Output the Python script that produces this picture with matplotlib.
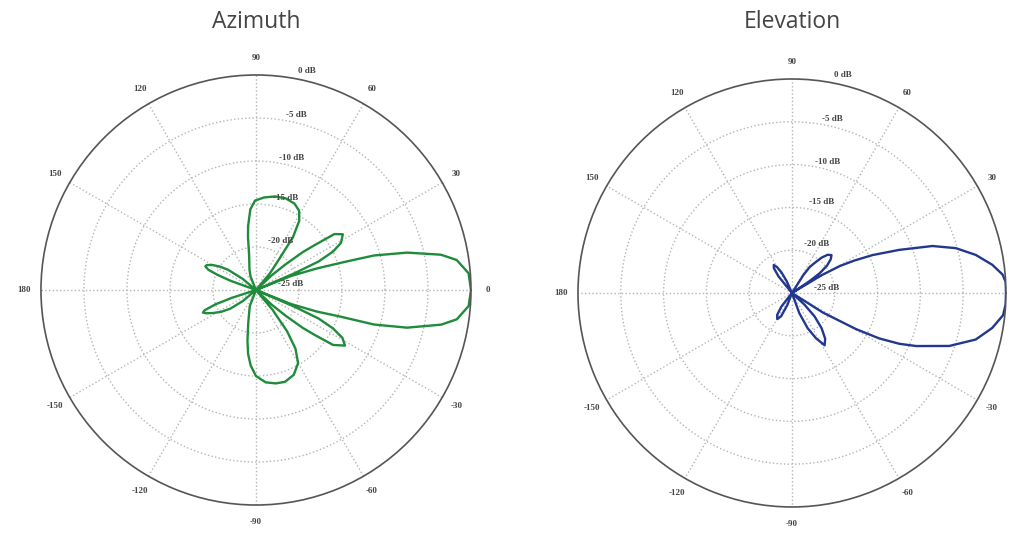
import matplotlib.pyplot as plt
import numpy as np

# Azimuth pattern (angle in degrees, gain in dB; -25 dB = centre of plot)
az_theta = [
    -180, -170, -164, -162, -160.5, -158.5, -157, -155, -152, -148, -144,
    -140, -136, -125, -116, -111, -107, -103, -99.5, -97, -94, -90, -84,
    -78, -72.5, -66, -60, -56, -53, -50, -47, -45, -43, -41, -39, -37.5,
    -35.5, -32, -29, -26.5, -24.5, -23.5, -23, -21.8, -19.5, -17.5, -16.3,
    -14, -10.6, -8.3, -4.3, 0, 4.5, 8.5, 10.8, 13.9, 16.3, 17.5, 19.5,
    21.8, 23, 23.5, 24.5, 26.5, 29, 32.7, 35.5, 37.5, 39, 41, 43, 45, 47,
    50, 52.8, 55, 58, 61.5, 66, 72, 78.6, 85, 90.6, 94, 97, 98.6, 101, 104,
    107.6, 112, 116, 126, 136, 140, 144, 147, 150, 153, 155, 157, 158.5,
    160, 162, 170, 180,
]
az_db = [
    -25, -25, -25, -22.0, -20.0, -18.6, -18.3, -18.6, -19.3, -20.2, -21.3,
    -23.0, -25, -25, -25, -23.0, -22.3, -21.0, -19.0, -17.5, -16.2, -15.0,
    -14.2, -13.9, -13.8, -14.2, -15.2, -16.8, -19.0, -22.0, -25, -25, -22.5,
    -20.5, -18.0, -16.5, -14.0, -12.8, -13.5, -15.0, -17.0, -20.0, -25,
    -20.6, -17.5, -14.7, -10.7, -6.9, -3.1, -1.4, -0.2, 0.0, -0.2, -1.4,
    -3.1, -6.9, -10.7, -14.0, -17.5, -20.6, -25, -20.0, -17.0, -15.0,
    -13.7, -13.0, -13.8, -16.5, -18.0, -20.5, -22.5, -25, -25, -22.5, -20.8,
    -17.5, -15.5, -14.5, -14.0, -13.8, -13.9, -14.2, -14.6, -15.6, -17.5,
    -18.8, -20.8, -21.8, -22.5, -23.3, -25, -25, -25, -23.0, -21.0, -20.0,
    -19.2, -18.6, -18.5, -19.0, -20.2, -21.8, -25, -25, -25,
]

# Elevation pattern
el_theta = [
    -180, -140, -132, -128, -124, -119.3, -115, -111, -107, -90, -73, -70,
    -66, -62, -58, -54, -50, -46, -43, -40, -36, -32.3, -29.4, -27.5,
    -25.3, -23.1, -18.6, -14.2, -9.9, -6, -3, 0, 3, 5, 8, 11.7, 15.3, 18.5,
    21.9, 25.2, 27.5, 29.4, 31, 33, 34, 35.5, 38, 41, 43.8, 47, 50, 53,
    55.6, 57.5, 60, 90, 110, 114, 117, 120, 123, 126, 129, 133, 140, 180,
]
el_db = [
    -25, -25, -25, -23.0, -21.9, -21.5, -22.0, -23.5, -25, -25, -25, -22.5,
    -20.5, -19.0, -17.8, -18.4, -19.6, -21.2, -23.0, -25, -25, -20.7,
    -16.4, -13.5, -11.1, -9.2, -5.6, -2.85, -1.25, -0.2, 0.0, 0.0, 0.0,
    -0.3, -1.36, -3.07, -5.15, -7.7, -11.5, -14.6, -16.8, -18.6, -21.0,
    -25, -22.5, -21.0, -19.8, -19.0, -18.6, -18.9, -19.6, -20.6, -21.3,
    -22.5, -25, -25, -25, -23.5, -22.3, -21.5, -21.1, -21.4, -22.5, -25,
    -25, -25,
]

ring_labels = ["0 dB", "-5 dB", "-10 dB", "-15 dB", "-20 dB", "-25 dB"]
# where each ring label sits (angle deg, radius in dB units)
ring_label_theta = [76.9, 77, 75, 72, 63.7, 9]
ring_label_r = [1.2, -4.1, -9.1, -13.8, -18.6, -20.9]

angle_ticks = [0, 30, 60, 90, 120, 150, 180, 210, 240, 270, 300, 330]
angle_labels = ["0", "30", "60", "90", "120", "150", "180",
                "-150", "-120", "-90", "-60", "-30"]

panels = [
    ("Azimuth", az_theta, az_db, "#1e8c3a", [0.0402, 0.0525, 0.4220, 0.8068]),
    ("Elevation", el_theta, el_db, "#22378f", [0.5672, 0.0488, 0.4200, 0.8030]),
]

fig = plt.figure(figsize=(10.19, 5.33), dpi=100)

for title, theta, db, color, rect in panels:
    ax = fig.add_axes(rect, projection="polar")
    ax.plot(np.deg2rad(theta), db, color=color, lw=1.7)
    ax.set_ylim(-25, 0)
    ax.set_thetagrids(angle_ticks, angle_labels, family="Liberation Serif",
                      fontweight="bold")
    ax.set_rgrids([-20, -15, -10, -5], labels=[])
    ax.grid(color="#b5b5b5", linestyle=":", linewidth=1.0)
    ax.tick_params(axis="x", pad=1.5, labelsize=6.5, colors="#444444")
    ax.spines["polar"].set_color("#555555")
    ax.spines["polar"].set_linewidth(1.2)
    for lab, t, r in zip(ring_labels, ring_label_theta, ring_label_r):
        ax.text(np.deg2rad(t), r, lab, fontsize=6.5, color="#444444",
                family="Liberation Serif", fontweight="bold",
                ha="center", va="center", clip_on=False)
    fig.text(rect[0] + rect[2] / 2, 0.958, title, ha="center", va="center",
             fontsize=16.5, color="#444444", family="Open Sans")

fig.savefig("out.png", dpi=100)
